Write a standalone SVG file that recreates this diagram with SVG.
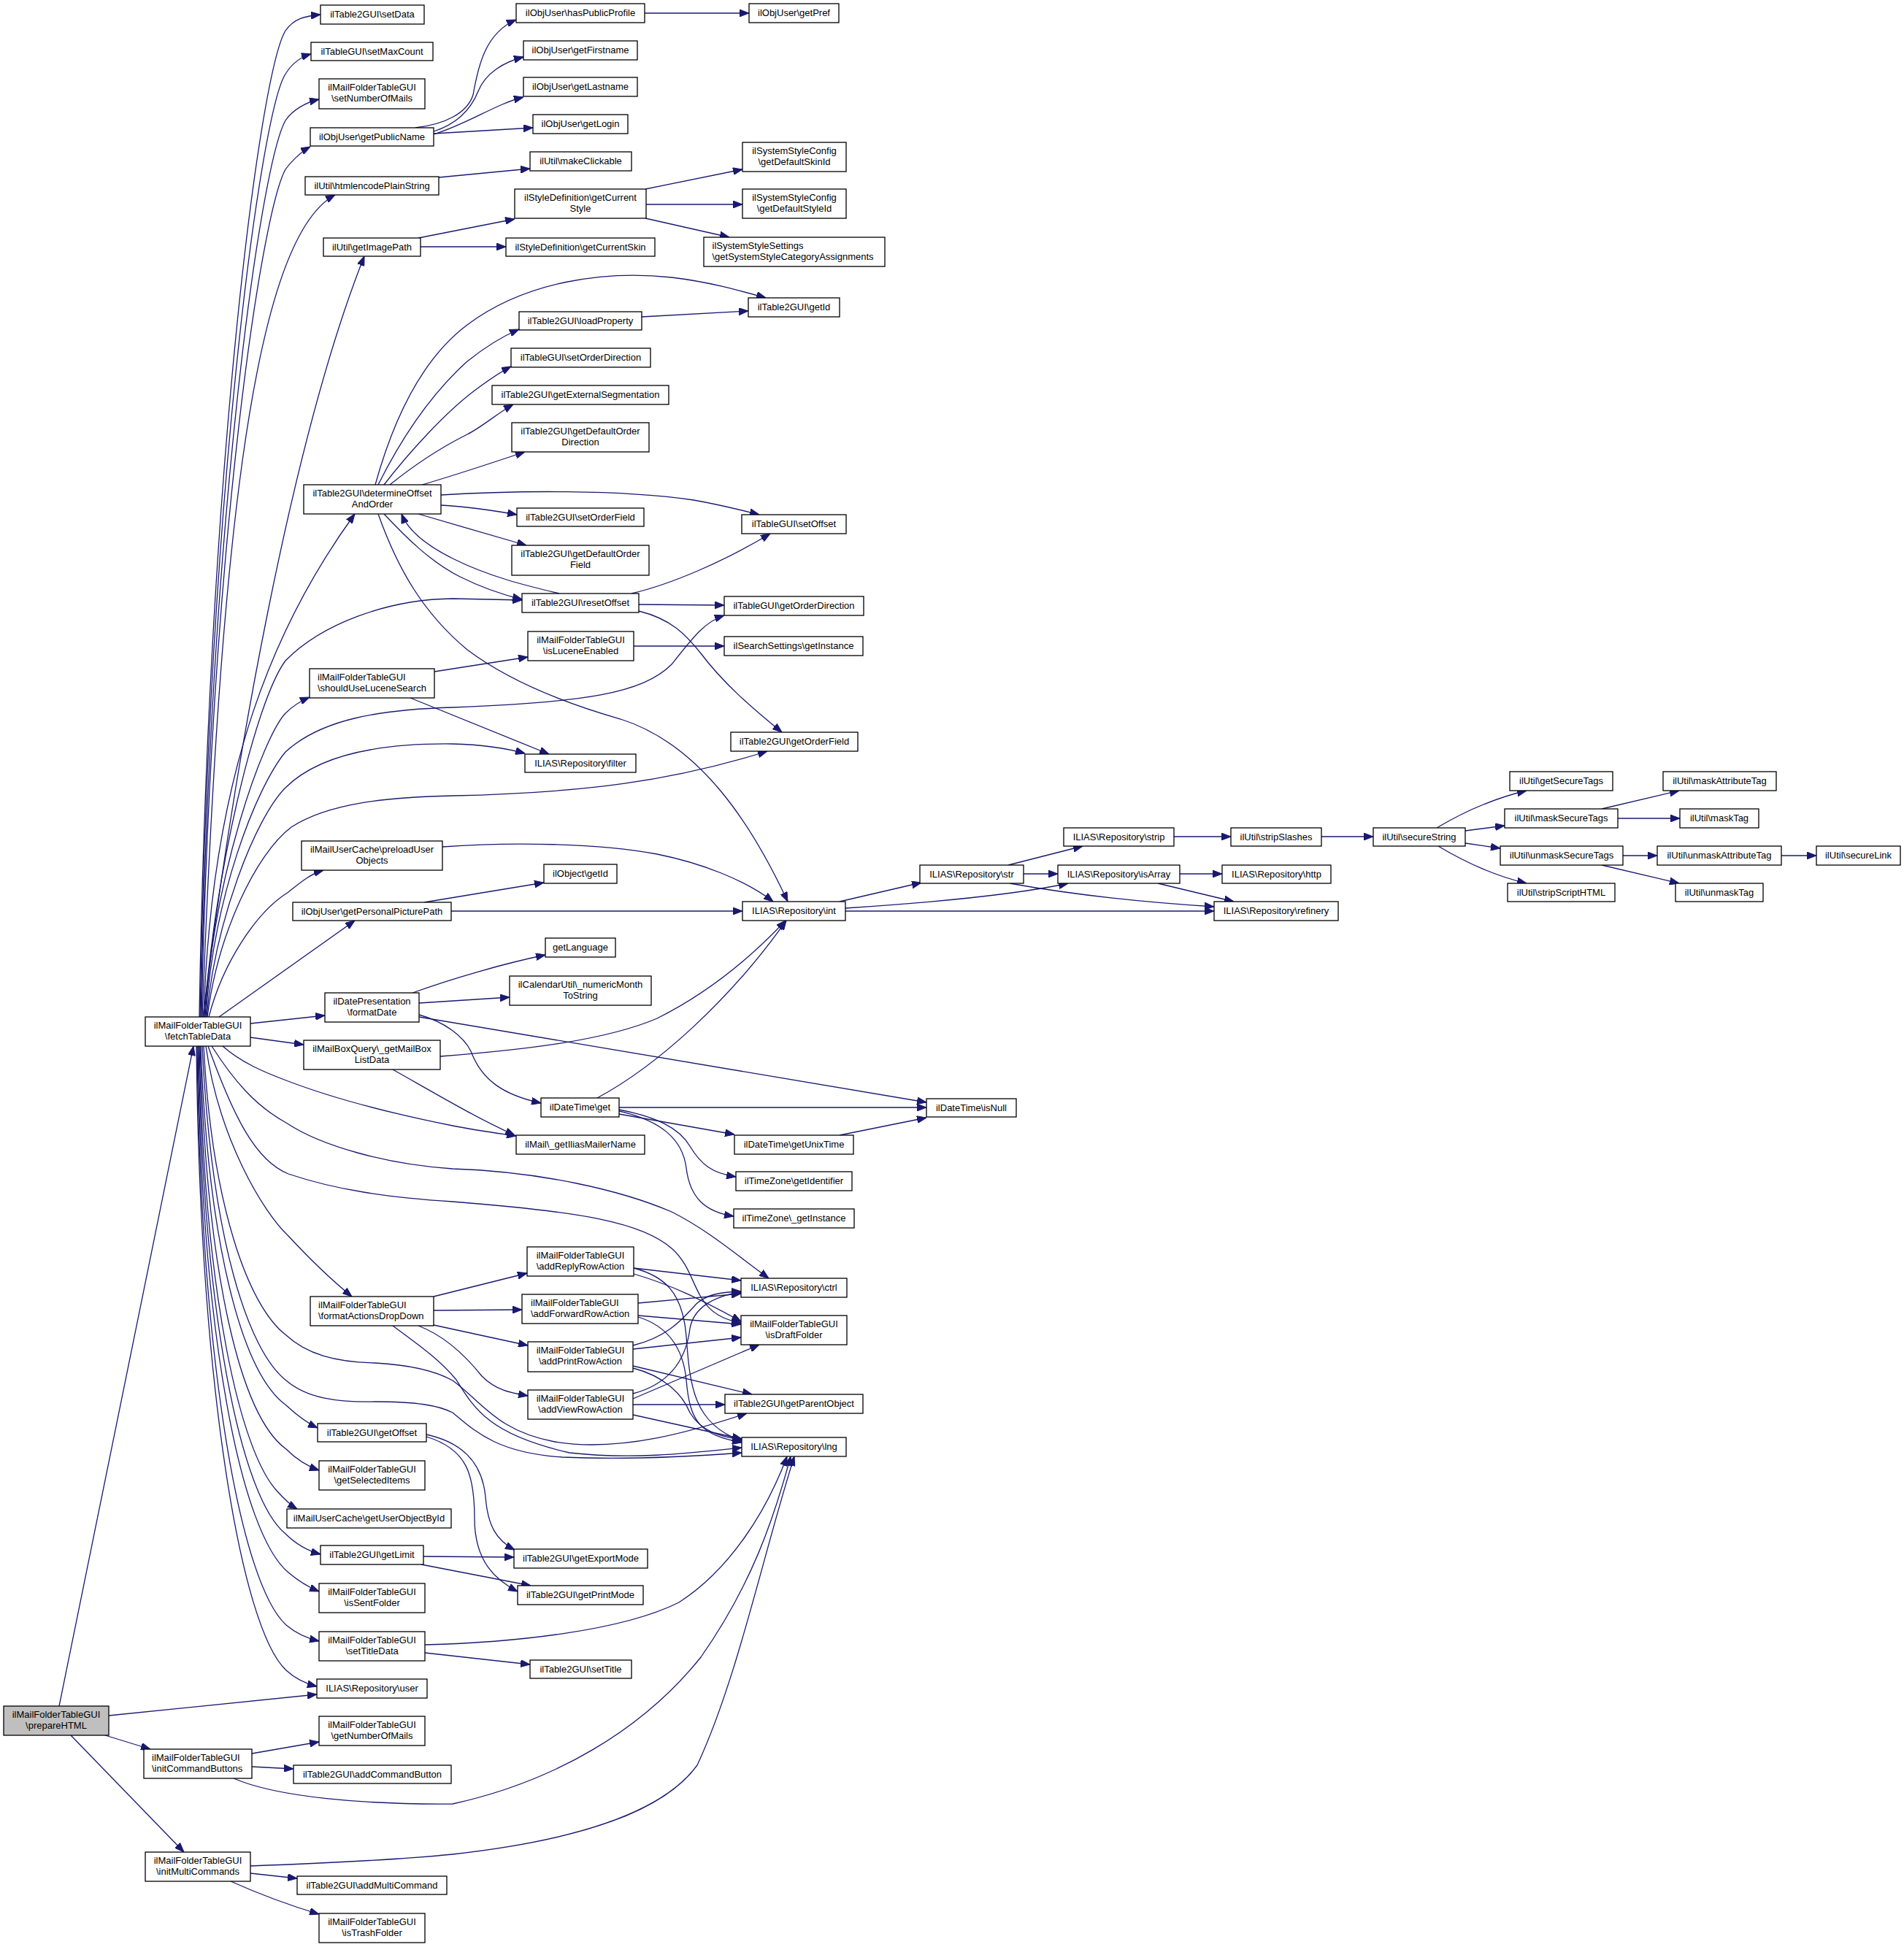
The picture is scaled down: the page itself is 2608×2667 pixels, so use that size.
<svg xmlns="http://www.w3.org/2000/svg" width="2608" height="2667" viewBox="0 0 2608 2667">
<style>
.n rect{fill:#fff;stroke:#000;stroke-width:1.3}
.n.g rect{fill:#bfbfbf}
text{font-family:"Liberation Sans",Arial,Helvetica,sans-serif;font-size:13px;fill:#000}
.c{text-anchor:middle}
#edges path{fill:none;stroke:#191970;stroke-width:1.3;marker-end:url(#a)}
</style>
<defs>
<marker id="a" viewBox="0 0 13 10" refX="13" refY="5" markerWidth="13" markerHeight="10" orient="auto" markerUnits="userSpaceOnUse"><path d="M0,0 L13,5 L0,10 z" fill="#191970" stroke="#191970" stroke-width="1"/></marker>
</defs>
<rect x="0" y="0" width="2608" height="2667" fill="#fff"/>
<g id="edges">
<path d="M81,2337 L265,1433"/>
<path d="M149,2350 L434,2321"/>
<path d="M144,2377 L206,2396"/>
<path d="M97,2377 L252,2537"/>
<path d="M345,2402 L437,2386"/>
<path d="M345,2420 L402,2423"/>
<path d="M320,2436 C380,2462 500,2472 620,2471 C760,2440 880,2370 960,2270 C1030,2170 1060,2080 1083,1995"/>
<path d="M343,2556 C450,2552 560,2546 620,2540 C800,2520 910,2480 955,2418 C1010,2300 1045,2130 1088,1995"/>
<path d="M343,2566 L407,2573"/>
<path d="M316,2577 C345,2590 390,2608 437,2622"/>
<path d="M582,2253 C700,2250 850,2235 930,2195 C1000,2150 1050,2070 1078,1995"/>
<path d="M582,2264 L726,2280"/>
<path d="M273,1393 C285,650 355,102 391,42 C403,25 418,22 439,20"/>
<path d="M274,1393 C286,680 356,163 390,103 C400,86 412,78 426,74"/>
<path d="M275,1393 C288,710 357,225 391,165 C401,150 420,140 437,136"/>
<path d="M276,1393 C290,740 358,292 391,232 C398,222 412,208 425,201"/>
<path d="M277,1393 C300,800 340,330 459,267"/>
<path d="M278,1393 C320,1050 400,600 499,351"/>
<path d="M279,1393 C290,1050 380,850 486,704"/>
<path d="M280,1393 C293,1200 350,960 391,905 C440,855 530,821 620,820 L715,822"/>
<path d="M281,1393 C292,1200 360,1010 391,977 C400,968 410,961 424,955"/>
<path d="M282,1393 C292,1230 350,1080 391,1030 C440,985 520,972 620,969 C800,962 880,950 920,910 C950,872 965,852 992,843"/>
<path d="M283,1393 C295,1260 350,1120 391,1079 C440,1030 530,1018 620,1019 C660,1020 690,1024 719,1032"/>
<path d="M284,1393 C298,1280 350,1170 399,1133 C450,1100 530,1092 620,1090 C800,1086 920,1070 1051,1029"/>
<path d="M286,1393 C305,1320 350,1250 395,1222 C410,1210 425,1197 443,1192"/>
<path d="M300,1393 L486,1261"/>
<path d="M343,1402 L445,1391"/>
<path d="M343,1421 L416,1431"/>
<path d="M305,1433 C330,1455 360,1468 392,1480 C470,1510 560,1530 620,1542 C650,1548 680,1552 707,1556"/>
<path d="M290,1433 C320,1480 350,1515 392,1538 C440,1570 530,1595 620,1601 C740,1605 850,1630 920,1660 C970,1685 1010,1720 1053,1751"/>
<path d="M285,1433 C320,1530 350,1590 395,1608 C460,1630 530,1640 620,1646 C800,1660 880,1675 920,1710 C960,1745 945,1800 1015,1812"/>
<path d="M282,1433 C300,1560 360,1660 395,1693 C420,1720 450,1750 482,1776"/>
<path d="M279,1433 C290,1650 340,1790 392,1829 C420,1855 460,1866 514,1867 C570,1870 600,1880 620,1891 C660,1920 680,1960 760,1975 C850,1990 950,1960 1023,1936"/>
<path d="M277,1433 C290,1700 340,1850 392,1891 C420,1915 460,1921 514,1920 C570,1920 600,1925 620,1935 C650,1960 680,1990 770,1996 C860,2000 950,1995 1016,1990"/>
<path d="M275,1433 C285,1700 330,1880 392,1925 C405,1937 418,1948 435,1956"/>
<path d="M274,1433 C283,1750 330,1940 392,1985 C405,1998 420,2008 437,2014"/>
<path d="M273,1433 C280,1780 330,1990 380,2043 C388,2052 397,2061 407,2067"/>
<path d="M272,1433 C278,1800 330,2050 390,2100 C405,2115 420,2124 439,2129"/>
<path d="M271,1433 C276,1830 330,2100 395,2154 C408,2165 420,2173 437,2180"/>
<path d="M270,1433 C275,1870 330,2170 392,2226 C405,2237 420,2244 437,2248"/>
<path d="M269,1433 C274,1900 330,2230 392,2288 C405,2300 418,2306 434,2310"/>
<path d="M569,175 C610,170 640,155 648,130 C655,90 665,45 707,27"/>
<path d="M594,180 C625,170 645,150 655,125 C665,100 690,85 717,78"/>
<path d="M594,184 C640,170 680,142 717,133"/>
<path d="M594,183 L730,175"/>
<path d="M883,18 L1026,18"/>
<path d="M601,243 L726,231"/>
<path d="M573,326 L705,300"/>
<path d="M576,338 L693,338"/>
<path d="M884,259 L1017,232"/>
<path d="M885,280 L1017,280"/>
<path d="M884,299 L999,325"/>
<path d="M879,434 L1025,426"/>
<path d="M514,664 C540,570 580,490 640,445 C720,385 830,370 920,380 C970,386 1010,397 1049,408"/>
<path d="M518,664 C550,600 590,540 640,495 C665,475 690,460 711,451"/>
<path d="M526,664 C560,620 610,565 650,535 C670,520 685,510 700,502"/>
<path d="M534,664 C570,635 610,610 640,595 C660,585 680,567 703,554"/>
<path d="M578,664 C620,652 680,632 719,619"/>
<path d="M604,678 C700,672 850,670 950,685 C990,692 1020,700 1040,705"/>
<path d="M604,692 C640,694 680,700 708,705"/>
<path d="M573,704 C620,718 680,735 721,747"/>
<path d="M526,704 C555,735 590,770 630,790 C660,805 690,815 715,821"/>
<path d="M518,704 C545,780 580,840 640,890 C700,935 780,965 850,985 C960,1020 1030,1130 1079,1235"/>
<path d="M766,813 C720,802 670,790 620,765 C590,750 560,730 550,704"/>
<path d="M865,813 C920,800 990,770 1055,731"/>
<path d="M875,828 L992,829"/>
<path d="M875,837 C920,848 940,870 960,895 C990,935 1030,970 1071,1003"/>
<path d="M595,920 L723,900"/>
<path d="M562,956 L752,1033"/>
<path d="M868,885 L992,885"/>
<path d="M606,1160 C700,1153 820,1155 900,1170 C960,1182 1020,1205 1059,1235"/>
<path d="M581,1236 L745,1209"/>
<path d="M618,1248 L1017,1248"/>
<path d="M565,1360 C620,1340 690,1320 747,1308"/>
<path d="M574,1374 L698,1366"/>
<path d="M574,1390 C610,1400 635,1420 645,1440 C660,1480 690,1500 741,1511"/>
<path d="M574,1393 L1269,1510"/>
<path d="M603,1447 C720,1438 830,1425 900,1395 C970,1360 1030,1310 1076,1261"/>
<path d="M538,1465 C600,1500 650,1530 705,1555"/>
<path d="M594,1776 L722,1744"/>
<path d="M594,1795 L715,1794"/>
<path d="M594,1815 L723,1843"/>
<path d="M573,1816 C610,1830 640,1860 660,1885 C680,1905 700,1908 723,1912"/>
<path d="M538,1816 C570,1840 600,1860 625,1890 C650,1930 670,1965 780,1990 C870,2000 950,1990 1016,1983"/>
<path d="M584,1965 C630,1975 660,2000 665,2050 C668,2090 680,2110 705,2123"/>
<path d="M584,1968 C640,1985 650,2020 650,2080 C650,2140 680,2165 709,2180"/>
<path d="M580,2132 L704,2133"/>
<path d="M577,2143 L727,2172"/>
<path d="M818,1504 C900,1460 1000,1370 1077,1261"/>
<path d="M848,1517 L1269,1517"/>
<path d="M848,1526 L1006,1554"/>
<path d="M848,1520 C900,1530 930,1545 945,1570 C960,1595 975,1607 1008,1612"/>
<path d="M848,1522 C905,1535 935,1560 940,1600 C945,1640 965,1660 1005,1666"/>
<path d="M1150,1555 L1269,1531"/>
<path d="M868,1737 L1015,1754"/>
<path d="M868,1745 C920,1760 960,1780 1015,1810"/>
<path d="M868,1737 C910,1748 935,1770 940,1830 C945,1900 950,1950 1016,1974"/>
<path d="M874,1785 L1015,1772"/>
<path d="M874,1802 L1015,1814"/>
<path d="M874,1804 C910,1815 935,1840 940,1890 C945,1950 960,1965 1016,1976"/>
<path d="M867,1843 C920,1830 940,1800 955,1785 C970,1772 990,1770 1015,1769"/>
<path d="M867,1848 L1015,1832"/>
<path d="M867,1871 L1030,1910"/>
<path d="M867,1874 C910,1885 935,1910 945,1935 C960,1960 985,1968 1016,1972"/>
<path d="M867,1909 C920,1895 940,1860 945,1820 C950,1790 980,1775 1015,1770"/>
<path d="M867,1916 L1040,1842"/>
<path d="M867,1924 L993,1924"/>
<path d="M867,1938 L1016,1971"/>
<path d="M1150,1235 L1262,1209"/>
<path d="M1158,1244 C1250,1238 1380,1228 1463,1210"/>
<path d="M1158,1248 L1663,1248"/>
<path d="M1381,1185 L1483,1159"/>
<path d="M1402,1197 L1449,1197"/>
<path d="M1383,1210 C1450,1222 1550,1235 1663,1242"/>
<path d="M1616,1197 L1674,1197"/>
<path d="M1586,1210 L1690,1235"/>
<path d="M1608,1146 L1686,1146"/>
<path d="M1810,1146 L1881,1146"/>
<path d="M1968,1134 C2000,1115 2040,1095 2091,1083"/>
<path d="M2007,1138 L2061,1131"/>
<path d="M2007,1155 L2055,1162"/>
<path d="M1970,1159 C2000,1177 2040,1198 2091,1210"/>
<path d="M2194,1108 L2300,1083"/>
<path d="M2216,1121 L2301,1121"/>
<path d="M2223,1172 L2270,1172"/>
<path d="M2194,1185 L2300,1210"/>
<path d="M2440,1172 L2488,1172"/>
</g>
<g id="n_prepareHTML" class="n g"><rect x="5" y="2337" width="144" height="40"/><text class="c" x="77" y="2353">ilMailFolderTableGUI</text><text class="c" x="77" y="2367.7">\prepareHTML</text></g>
<g id="n_fetchTableData" class="n"><rect x="199" y="1393" width="144" height="40"/><text class="c" x="271" y="1409">ilMailFolderTableGUI</text><text class="c" x="271" y="1423.7">\fetchTableData</text></g>
<g id="n_initCommandButtons" class="n"><rect x="197" y="2396" width="148" height="40"/><text x="208" y="2412">ilMailFolderTableGUI</text><text x="208" y="2426.7">\initCommandButtons</text></g>
<g id="n_initMultiCommands" class="n"><rect x="199" y="2537" width="144" height="40"/><text class="c" x="271" y="2553">ilMailFolderTableGUI</text><text class="c" x="271" y="2567.7">\initMultiCommands</text></g>
<g id="n_setData" class="n"><rect x="439" y="7" width="142" height="26"/><text class="c" x="510" y="24.3">ilTable2GUI\setData</text></g>
<g id="n_setMaxCount" class="n"><rect x="426" y="58" width="167" height="25"/><text class="c" x="509.5" y="74.8">ilTableGUI\setMaxCount</text></g>
<g id="n_setNumberOfMails" class="n"><rect x="437" y="108" width="145" height="41"/><text class="c" x="509.5" y="124">ilMailFolderTableGUI</text><text class="c" x="509.5" y="138.7">\setNumberOfMails</text></g>
<g id="n_getPublicName" class="n"><rect x="425" y="175" width="169" height="25"/><text class="c" x="509.5" y="191.8">ilObjUser\getPublicName</text></g>
<g id="n_htmlencodePlainString" class="n"><rect x="418" y="242" width="183" height="25"/><text class="c" x="509.5" y="258.8">ilUtil\htmlencodePlainString</text></g>
<g id="n_getImagePath" class="n"><rect x="443" y="326" width="133" height="25"/><text class="c" x="509.5" y="342.8">ilUtil\getImagePath</text></g>
<g id="n_determineOffsetAndOrder" class="n"><rect x="416" y="664" width="188" height="40"/><text class="c" x="510" y="680">ilTable2GUI\determineOffset</text><text class="c" x="510" y="694.7">AndOrder</text></g>
<g id="n_shouldUseLuceneSearch" class="n"><rect x="424" y="916" width="171" height="40"/><text x="435" y="932">ilMailFolderTableGUI</text><text x="435" y="946.7">\shouldUseLuceneSearch</text></g>
<g id="n_preloadUserObjects" class="n"><rect x="413" y="1152" width="193" height="40"/><text class="c" x="509.5" y="1168">ilMailUserCache\preloadUser</text><text class="c" x="509.5" y="1182.7">Objects</text></g>
<g id="n_getPersonalPicturePath" class="n"><rect x="401" y="1236" width="217" height="25"/><text class="c" x="509.5" y="1252.8">ilObjUser\getPersonalPicturePath</text></g>
<g id="n_formatDate" class="n"><rect x="445" y="1360" width="129" height="40"/><text class="c" x="509.5" y="1376">ilDatePresentation</text><text class="c" x="509.5" y="1390.7">\formatDate</text></g>
<g id="n_getMailBoxListData" class="n"><rect x="416" y="1425" width="187" height="40"/><text class="c" x="509.5" y="1441">ilMailBoxQuery\_getMailBox</text><text class="c" x="509.5" y="1455.7">ListData</text></g>
<g id="n_formatActionsDropDown" class="n"><rect x="425" y="1776" width="169" height="40"/><text x="436" y="1792">ilMailFolderTableGUI</text><text x="436" y="1806.7">\formatActionsDropDown</text></g>
<g id="n_getOffset" class="n"><rect x="435" y="1950" width="149" height="25"/><text class="c" x="509.5" y="1966.8">ilTable2GUI\getOffset</text></g>
<g id="n_getSelectedItems" class="n"><rect x="437" y="2001" width="145" height="40"/><text class="c" x="509.5" y="2017">ilMailFolderTableGUI</text><text class="c" x="509.5" y="2031.7">\getSelectedItems</text></g>
<g id="n_getUserObjectById" class="n"><rect x="393" y="2067" width="225" height="26"/><text class="c" x="505.5" y="2084.3">ilMailUserCache\getUserObjectById</text></g>
<g id="n_getLimit" class="n"><rect x="439" y="2117" width="141" height="26"/><text class="c" x="509.5" y="2134.3">ilTable2GUI\getLimit</text></g>
<g id="n_isSentFolder" class="n"><rect x="437" y="2169" width="145" height="40"/><text class="c" x="509.5" y="2185">ilMailFolderTableGUI</text><text class="c" x="509.5" y="2199.7">\isSentFolder</text></g>
<g id="n_setTitleData" class="n"><rect x="437" y="2235" width="145" height="40"/><text class="c" x="509.5" y="2251">ilMailFolderTableGUI</text><text class="c" x="509.5" y="2265.7">\setTitleData</text></g>
<g id="n_user" class="n"><rect x="434" y="2300" width="151" height="26"/><text class="c" x="509.5" y="2317.3">ILIAS\Repository\user</text></g>
<g id="n_getNumberOfMails" class="n"><rect x="437" y="2351" width="145" height="40"/><text class="c" x="509.5" y="2367">ilMailFolderTableGUI</text><text class="c" x="509.5" y="2381.7">\getNumberOfMails</text></g>
<g id="n_addCommandButton" class="n"><rect x="402" y="2418" width="216" height="25"/><text class="c" x="510" y="2434.8">ilTable2GUI\addCommandButton</text></g>
<g id="n_addMultiCommand" class="n"><rect x="407" y="2570" width="205" height="25"/><text class="c" x="509.5" y="2586.8">ilTable2GUI\addMultiCommand</text></g>
<g id="n_isTrashFolder" class="n"><rect x="437" y="2621" width="145" height="40"/><text class="c" x="509.5" y="2637">ilMailFolderTableGUI</text><text class="c" x="509.5" y="2651.7">\isTrashFolder</text></g>
<g id="n_hasPublicProfile" class="n"><rect x="707" y="5" width="176" height="26"/><text class="c" x="795" y="22.3">ilObjUser\hasPublicProfile</text></g>
<g id="n_getFirstname" class="n"><rect x="717" y="56" width="156" height="26"/><text class="c" x="795" y="73.3">ilObjUser\getFirstname</text></g>
<g id="n_getLastname" class="n"><rect x="717" y="106" width="156" height="26"/><text class="c" x="795" y="123.3">ilObjUser\getLastname</text></g>
<g id="n_getLogin" class="n"><rect x="730" y="157" width="130" height="26"/><text class="c" x="795" y="174.3">ilObjUser\getLogin</text></g>
<g id="n_makeClickable" class="n"><rect x="726" y="208" width="139" height="26"/><text class="c" x="795.5" y="225.3">ilUtil\makeClickable</text></g>
<g id="n_getCurrentStyle" class="n"><rect x="705" y="259" width="180" height="40"/><text class="c" x="795" y="275">ilStyleDefinition\getCurrent</text><text class="c" x="795" y="289.7">Style</text></g>
<g id="n_getCurrentSkin" class="n"><rect x="693" y="326" width="204" height="25"/><text class="c" x="795" y="342.8">ilStyleDefinition\getCurrentSkin</text></g>
<g id="n_loadProperty" class="n"><rect x="711" y="427" width="168" height="25"/><text class="c" x="795" y="443.8">ilTable2GUI\loadProperty</text></g>
<g id="n_setOrderDirection" class="n"><rect x="700" y="477" width="191" height="26"/><text class="c" x="795.5" y="494.3">ilTableGUI\setOrderDirection</text></g>
<g id="n_getExternalSegmentation" class="n"><rect x="674" y="528" width="242" height="26"/><text class="c" x="795" y="545.3">ilTable2GUI\getExternalSegmentation</text></g>
<g id="n_getDefaultOrderDirection" class="n"><rect x="701" y="579" width="188" height="40"/><text class="c" x="795" y="595">ilTable2GUI\getDefaultOrder</text><text class="c" x="795" y="609.7">Direction</text></g>
<g id="n_setOrderField" class="n"><rect x="708" y="696" width="174" height="25"/><text class="c" x="795" y="712.8">ilTable2GUI\setOrderField</text></g>
<g id="n_getDefaultOrderField" class="n"><rect x="701" y="747" width="188" height="41"/><text class="c" x="795" y="763">ilTable2GUI\getDefaultOrder</text><text class="c" x="795" y="777.7">Field</text></g>
<g id="n_resetOffset" class="n"><rect x="715" y="813" width="160" height="26"/><text class="c" x="795" y="830.3">ilTable2GUI\resetOffset</text></g>
<g id="n_isLuceneEnabled" class="n"><rect x="723" y="865" width="145" height="40"/><text class="c" x="795.5" y="881">ilMailFolderTableGUI</text><text class="c" x="795.5" y="895.7">\isLuceneEnabled</text></g>
<g id="n_filter" class="n"><rect x="719" y="1033" width="152" height="25"/><text class="c" x="795" y="1049.8">ILIAS\Repository\filter</text></g>
<g id="n_objectGetId" class="n"><rect x="745" y="1184" width="100" height="26"/><text class="c" x="795" y="1201.3">ilObject\getId</text></g>
<g id="n_getLanguage" class="n"><rect x="747" y="1285" width="96" height="26"/><text class="c" x="795" y="1302.3">getLanguage</text></g>
<g id="n_numericMonthToString" class="n"><rect x="698" y="1337" width="194" height="40"/><text class="c" x="795" y="1353">ilCalendarUtil\_numericMonth</text><text class="c" x="795" y="1367.7">ToString</text></g>
<g id="n_dateTimeGet" class="n"><rect x="741" y="1504" width="107" height="26"/><text class="c" x="794.5" y="1521.3">ilDateTime\get</text></g>
<g id="n_getIliasMailerName" class="n"><rect x="707" y="1555" width="176" height="26"/><text class="c" x="795" y="1572.3">ilMail\_getIliasMailerName</text></g>
<g id="n_addReplyRowAction" class="n"><rect x="722" y="1708" width="146" height="40"/><text class="c" x="795" y="1724">ilMailFolderTableGUI</text><text class="c" x="795" y="1738.7">\addReplyRowAction</text></g>
<g id="n_addForwardRowAction" class="n"><rect x="715" y="1773" width="159" height="40"/><text x="727" y="1789">ilMailFolderTableGUI</text><text x="727" y="1803.7">\addForwardRowAction</text></g>
<g id="n_addPrintRowAction" class="n"><rect x="723" y="1838" width="144" height="41"/><text class="c" x="795" y="1854">ilMailFolderTableGUI</text><text class="c" x="795" y="1868.7">\addPrintRowAction</text></g>
<g id="n_addViewRowAction" class="n"><rect x="723" y="1904" width="144" height="40"/><text class="c" x="795" y="1920">ilMailFolderTableGUI</text><text class="c" x="795" y="1934.7">\addViewRowAction</text></g>
<g id="n_getExportMode" class="n"><rect x="704" y="2122" width="183" height="26"/><text class="c" x="795.5" y="2139.3">ilTable2GUI\getExportMode</text></g>
<g id="n_getPrintMode" class="n"><rect x="709" y="2172" width="172" height="26"/><text class="c" x="795" y="2189.3">ilTable2GUI\getPrintMode</text></g>
<g id="n_setTitle" class="n"><rect x="726" y="2274" width="139" height="25"/><text class="c" x="795.5" y="2290.8">ilTable2GUI\setTitle</text></g>
<g id="n_getPref" class="n"><rect x="1026" y="5" width="123" height="26"/><text class="c" x="1087.5" y="22.3">ilObjUser\getPref</text></g>
<g id="n_getDefaultSkinId" class="n"><rect x="1017" y="195" width="142" height="40"/><text class="c" x="1088" y="211">ilSystemStyleConfig</text><text class="c" x="1088" y="225.7">\getDefaultSkinId</text></g>
<g id="n_getDefaultStyleId" class="n"><rect x="1017" y="259" width="142" height="40"/><text class="c" x="1088" y="275">ilSystemStyleConfig</text><text class="c" x="1088" y="289.7">\getDefaultStyleId</text></g>
<g id="n_getSystemStyleCategoryAssignments" class="n"><rect x="964" y="325" width="248" height="40"/><text x="975.5" y="341">ilSystemStyleSettings</text><text x="975.5" y="355.7">\getSystemStyleCategoryAssignments</text></g>
<g id="n_table2GetId" class="n"><rect x="1025" y="408" width="125" height="26"/><text class="c" x="1087.5" y="425.3">ilTable2GUI\getId</text></g>
<g id="n_setOffset" class="n"><rect x="1016" y="705" width="143" height="26"/><text class="c" x="1087.5" y="722.3">ilTableGUI\setOffset</text></g>
<g id="n_getOrderDirection" class="n"><rect x="992" y="817" width="191" height="26"/><text class="c" x="1087.5" y="834.3">ilTableGUI\getOrderDirection</text></g>
<g id="n_searchGetInstance" class="n"><rect x="992" y="872" width="190" height="26"/><text class="c" x="1087" y="889.3">ilSearchSettings\getInstance</text></g>
<g id="n_getOrderField" class="n"><rect x="1001" y="1003" width="174" height="26"/><text class="c" x="1088" y="1020.3">ilTable2GUI\getOrderField</text></g>
<g id="n_int" class="n"><rect x="1017" y="1235" width="141" height="26"/><text class="c" x="1087.5" y="1252.3">ILIAS\Repository\int</text></g>
<g id="n_getUnixTime" class="n"><rect x="1006" y="1555" width="163" height="26"/><text class="c" x="1087.5" y="1572.3">ilDateTime\getUnixTime</text></g>
<g id="n_getIdentifier" class="n"><rect x="1008" y="1605" width="159" height="26"/><text class="c" x="1087.5" y="1622.3">ilTimeZone\getIdentifier</text></g>
<g id="n_tzGetInstance" class="n"><rect x="1005" y="1656" width="165" height="26"/><text class="c" x="1087.5" y="1673.3">ilTimeZone\_getInstance</text></g>
<g id="n_ctrl" class="n"><rect x="1015" y="1751" width="145" height="26"/><text class="c" x="1087.5" y="1768.3">ILIAS\Repository\ctrl</text></g>
<g id="n_isDraftFolder" class="n"><rect x="1015" y="1802" width="145" height="40"/><text class="c" x="1087.5" y="1818">ilMailFolderTableGUI</text><text class="c" x="1087.5" y="1832.7">\isDraftFolder</text></g>
<g id="n_getParentObject" class="n"><rect x="993" y="1910" width="189" height="26"/><text class="c" x="1087.5" y="1927.3">ilTable2GUI\getParentObject</text></g>
<g id="n_lng" class="n"><rect x="1016" y="1969" width="143" height="26"/><text class="c" x="1087.5" y="1986.3">ILIAS\Repository\lng</text></g>
<g id="n_str" class="n"><rect x="1260" y="1185" width="142" height="25"/><text class="c" x="1331" y="1201.8">ILIAS\Repository\str</text></g>
<g id="n_isNull" class="n"><rect x="1269" y="1505" width="123" height="25"/><text class="c" x="1330.5" y="1521.8">ilDateTime\isNull</text></g>
<g id="n_strip" class="n"><rect x="1457" y="1134" width="151" height="25"/><text class="c" x="1532.5" y="1150.8">ILIAS\Repository\strip</text></g>
<g id="n_isArray" class="n"><rect x="1449" y="1185" width="167" height="25"/><text class="c" x="1532.5" y="1201.8">ILIAS\Repository\isArray</text></g>
<g id="n_stripSlashes" class="n"><rect x="1686" y="1134" width="124" height="25"/><text class="c" x="1748" y="1150.8">ilUtil\stripSlashes</text></g>
<g id="n_http" class="n"><rect x="1674" y="1185" width="149" height="25"/><text class="c" x="1748.5" y="1201.8">ILIAS\Repository\http</text></g>
<g id="n_refinery" class="n"><rect x="1663" y="1235" width="170" height="26"/><text class="c" x="1748" y="1252.3">ILIAS\Repository\refinery</text></g>
<g id="n_secureString" class="n"><rect x="1881" y="1134" width="126" height="25"/><text class="c" x="1944" y="1150.8">ilUtil\secureString</text></g>
<g id="n_getSecureTags" class="n"><rect x="2068" y="1057" width="141" height="26"/><text class="c" x="2138.5" y="1074.3">ilUtil\getSecureTags</text></g>
<g id="n_maskSecureTags" class="n"><rect x="2061" y="1108" width="155" height="26"/><text class="c" x="2138.5" y="1125.3">ilUtil\maskSecureTags</text></g>
<g id="n_unmaskSecureTags" class="n"><rect x="2055" y="1159" width="168" height="26"/><text class="c" x="2139" y="1176.3">ilUtil\unmaskSecureTags</text></g>
<g id="n_stripScriptHTML" class="n"><rect x="2065" y="1210" width="147" height="25"/><text class="c" x="2138.5" y="1226.8">ilUtil\stripScriptHTML</text></g>
<g id="n_maskAttributeTag" class="n"><rect x="2278" y="1057" width="155" height="26"/><text class="c" x="2355.5" y="1074.3">ilUtil\maskAttributeTag</text></g>
<g id="n_maskTag" class="n"><rect x="2301" y="1108" width="108" height="26"/><text class="c" x="2355" y="1125.3">ilUtil\maskTag</text></g>
<g id="n_unmaskAttributeTag" class="n"><rect x="2270" y="1159" width="170" height="26"/><text class="c" x="2355" y="1176.3">ilUtil\unmaskAttributeTag</text></g>
<g id="n_unmaskTag" class="n"><rect x="2295" y="1210" width="120" height="25"/><text class="c" x="2355" y="1226.8">ilUtil\unmaskTag</text></g>
<g id="n_secureLink" class="n"><rect x="2488" y="1159" width="115" height="26"/><text class="c" x="2545.5" y="1176.3">ilUtil\secureLink</text></g>
</svg>
